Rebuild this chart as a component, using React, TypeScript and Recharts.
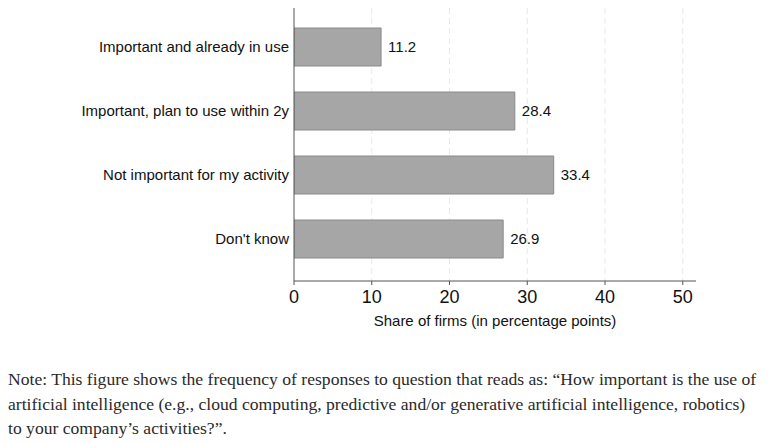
import React from 'react';
import { BarChart, Bar, XAxis, YAxis, CartesianGrid, LabelList } from 'recharts';

const categories = [
  'Important and already in use',
  'Important, plan to use within 2y',
  'Not important for my activity',
  "Don't know",
];
const shares = [11.2, 28.4, 33.4, 26.9];
const xTicks = [0, 10, 20, 30, 40, 50];
const xMax = 51.7;

const noteLines = [
  'Note: This figure shows the frequency of responses to question that reads as: “How important is the use of',
  'artificial intelligence (e.g., cloud computing, predictive and/or generative artificial intelligence, robotics)',
  'to your company’s activities?”.',
];

const data = categories.map((name, i) => ({ name, share: shares[i] }));

const sans = '"Liberation Sans", Arial, sans-serif';

const App = () => {
  return (
    <div style={{ position: 'absolute', left: 0, top: 0, width: 769, height: 443, background: '#fff' }}>
      <BarChart
        width={769}
        height={340}
        data={data}
        layout="vertical"
        margin={{ top: 8, right: 73, bottom: 14, left: 0 }}
        barCategoryGap={13}
      >
        <CartesianGrid
          horizontal={false}
          stroke="#e8e8e8"
          strokeDasharray="6 4"
          verticalCoordinatesGenerator={({ offset }: any) =>
            xTicks.slice(1).map((t) => offset.left + (offset.width * t) / xMax)
          }
        />
        <XAxis
          type="number"
          domain={[0, xMax]}
          ticks={xTicks}
          allowDataOverflow
          stroke="#555"
          tickSize={4}
          tickMargin={5}
          tick={{ fontSize: 18, fill: '#111', fontFamily: sans }}
          height={45}
          label={{
            value: 'Share of firms (in percentage points)',
            position: 'insideBottom',
            offset: 0,
            fontSize: 15,
            fill: '#111',
            fontFamily: sans,
          }}
        />
        <YAxis
          type="category"
          dataKey="name"
          width={294}
          stroke="#555"
          tickLine={false}
          tickSize={3}
          tickMargin={2}
          padding={{ top: 7, bottom: 10 }}
          tick={{ fontSize: 15, fill: '#111', fontFamily: sans }}
        />
        <Bar dataKey="share" fill="#a6a6a6" stroke="#8a8a8a" strokeWidth={1} barSize={38} isAnimationActive={false}>
          <LabelList
            dataKey="share"
            position="right"
            offset={7}
            formatter={(v: any) => Number(v).toFixed(1)}
            style={{ fontSize: 15, fill: '#111', fontFamily: sans }}
          />
        </Bar>
      </BarChart>
      <div
        style={{
          position: 'absolute',
          left: 8,
          top: 367,
          fontFamily: '"Liberation Serif", "Times New Roman", serif',
          fontSize: 17.6,
          lineHeight: '24.5px',
          color: '#2a2a2a',
          whiteSpace: 'nowrap',
        }}
      >
        {noteLines.map((l) => (
          <div key={l}>{l}</div>
        ))}
      </div>
    </div>
  );
};

export default App;
